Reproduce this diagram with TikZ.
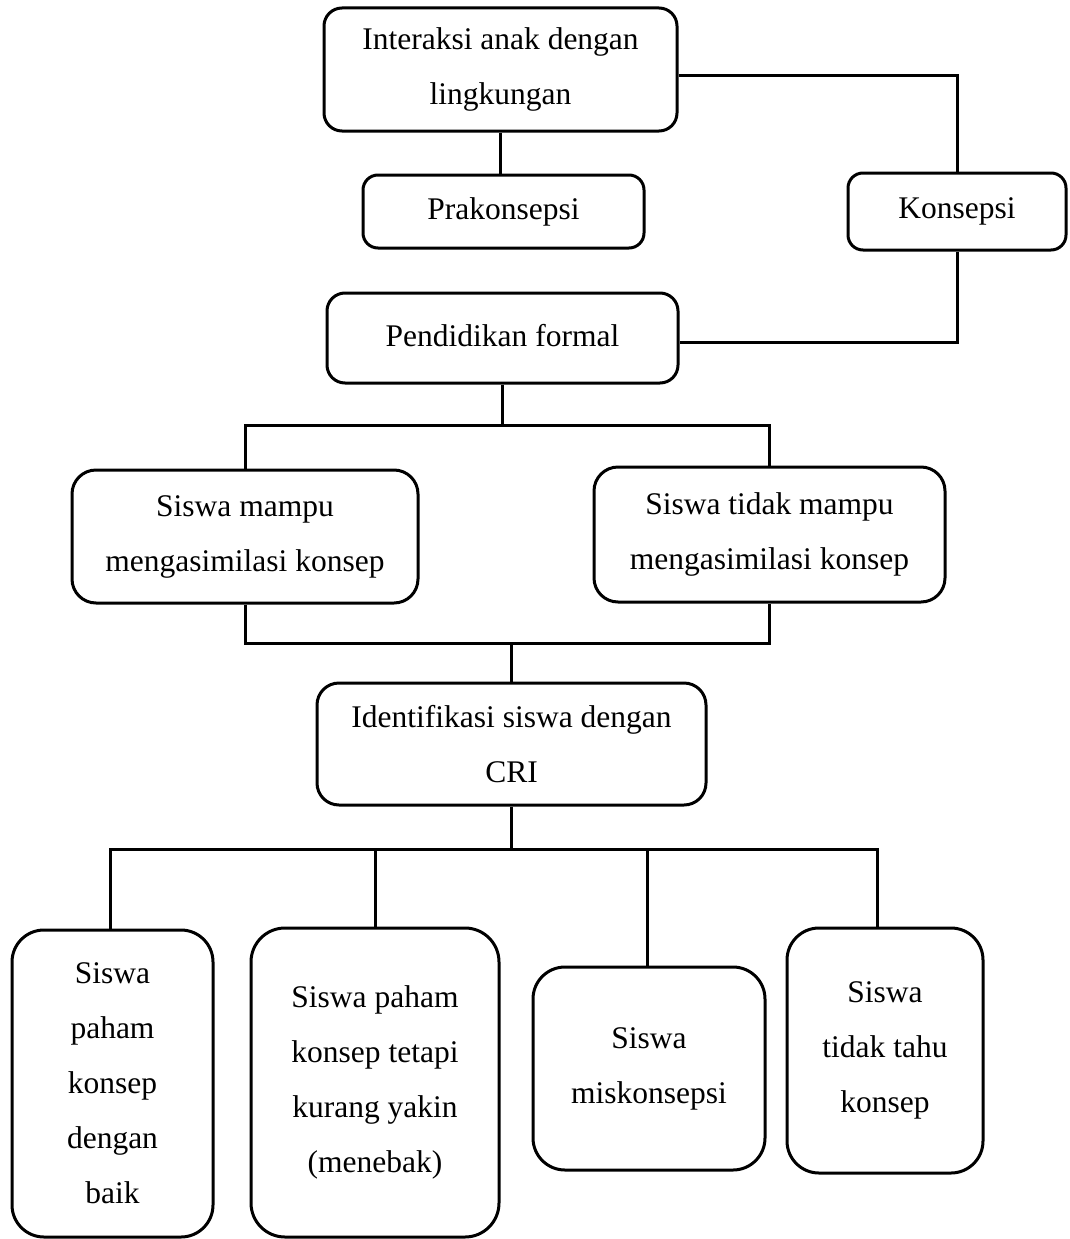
\documentclass[tikz,border=0pt]{standalone}
\usepackage{fontspec}
\setmainfont{Liberation Serif}
\usetikzlibrary{calc}
\begin{document}
\begin{tikzpicture}[x=1pt,y=-1pt,
  box/.style={draw=black, line width=3pt, rounded corners=#1, align=center,
    inner sep=0pt, font=\fontsize{31.5}{55}\selectfont, text=black},
  box/.default=18pt,
  link/.style={draw=black, line width=3pt}]
\fill[white] (0,0) rectangle (1070,1239);
\useasboundingbox (0,0) rectangle (1070,1239);
% top level
\node[box, minimum width=353pt, minimum height=123pt] (int) at (500.5,69.5) {Interaksi anak dengan\\lingkungan};
\node[box=15pt, minimum width=281pt, minimum height=73pt] (pra) at (503.5,211.5) {Prakonsepsi};
\node[box=15pt, minimum width=218pt, minimum height=77pt] (kon) at (957,211.5) {Konsepsi};
\node[box, minimum width=351pt, minimum height=90pt] (ped) at (502.5,338) {\raisebox{5pt}{Pendidikan formal}};
% middle
\node[box=24pt, minimum width=346pt, minimum height=133pt] (s1) at (245,536.5) {Siswa mampu\\mengasimilasi konsep};
\node[box=24pt, minimum width=351pt, minimum height=135pt] (s2) at (769.5,534.5) {Siswa tidak mampu\\mengasimilasi konsep};
\node[box=22pt, minimum width=389pt, minimum height=122pt] (idf) at (511.5,744) {Identifikasi siswa dengan\\CRI};
% bottom
\node[box=32pt, minimum width=201pt, minimum height=307pt] (b1) at (112.5,1083.5) {Siswa\\paham\\konsep\\dengan\\baik};
\node[box=34pt, minimum width=248pt, minimum height=309pt] (b2) at (375,1082.5) {Siswa paham\\konsep tetapi\\kurang yakin\\(menebak)};
\node[box=32pt, minimum width=232pt, minimum height=203pt] (b3) at (649,1068.5) {Siswa\\miskonsepsi};
\node[box=32pt, minimum width=196pt, minimum height=245pt] (b4) at (885,1050.5) {Siswa\\tidak tahu\\konsep};
% junctions
\coordinate (j1) at (502.5,425);
\coordinate (j2) at (511.5,643);
\coordinate (j3) at (511.5,849);
% connectors
\draw[link] (int.south) -- (int.south |- pra.north);
\draw[link] ([yshift=-5.5pt]int.east) -| (kon.north);
\draw[link] (pra.south -| int.south) -- (pra.south -| int.south |- ped.north);
\draw[link] (kon.south) |- ([yshift=-4pt]ped.east);
\draw[link] (ped.south) -- (j1);
\draw[link] (s1.north) |- (j1) -| (s2.north);
\draw[link] (s1.south) |- (j2) -| (s2.south);
\draw[link] (j2) -- (idf.north);
\draw[link] (idf.south) -- (j3);
\draw[link] ([xshift=-2.5pt]b1.north) |- (j3) -| ([xshift=-8pt]b4.north);
\draw[link] (b2.north) -- (b2.north |- j3);
\draw[link] ([xshift=-2pt]b3.north) -- ([xshift=-2pt]b3.north |- j3);
\end{tikzpicture}
\end{document}
